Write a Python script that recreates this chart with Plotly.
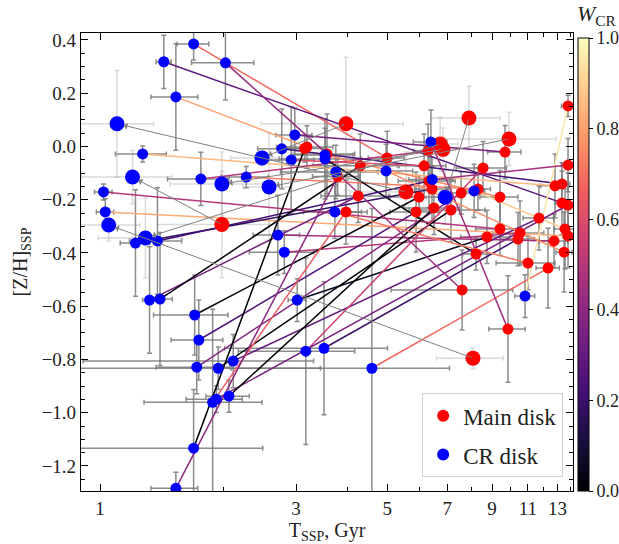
import numpy as np
import plotly.graph_objects as go

# ---------------- data (pair order: CR disk point <-> main disk point) ----------------
cr_age = [1.69, 1.43, 2.02, 1.53, 1.10, 1.27, 1.20, 1.76, 1.98, 2.27,
          2.48, 2.58, 2.77, 2.92, 2.98, 3.53, 3.53, 1.02, 1.03, 1.05,
          1.29, 1.22, 1.38, 2.71, 2.81, 1.32, 1.40, 3.02, 1.70, 1.74,
          1.72, 1.94, 2.11, 3.17, 3.51, 1.92, 1.88, 2.06, 1.69, 1.53,
          4.59, 10.83, 6.39, 4.97, 8.14, 3.75, 3.73, 6.44, 6.92]
cr_zh = [0.385, 0.318, 0.314, 0.186, 0.085, -0.028, -0.115, -0.122, -0.141, -0.115,
         -0.043, -0.152, -0.009, -0.051, 0.043, -0.032, -0.047, -0.171, -0.246, -0.295,
         -0.344, -0.363, -0.355, -0.333, -0.397, -0.577, -0.573, -0.577, -0.633, -0.727,
         -0.829, -0.833, -0.806, -0.769, -0.758, -0.949, -0.961, -0.938, -1.133, -1.284,
         -0.833, -0.562, 0.017, -0.092, -0.167, -0.096, -0.246, -0.124, -0.191]
main_age = [5.00, 13.32, 3.57, 3.19, 5.56, 12.81, 1.98, 6.29, 6.84, 8.32,
            3.97, 9.90, 13.32, 6.15, 9.68, 9.41, 8.23, 9.41, 13.78, 8.09,
            6.73, 6.43, 6.32, 12.74, 10.53, 4.25, 4.30, 8.75, 5.98, 5.88,
            7.57, 7.15, 11.71, 8.56, 10.41, 13.78, 3.97, 6.50, 3.15, 3.79,
            12.32, 13.78, 9.84, 13.48, 13.55, 7.61, 11.01, 13.78, 7.91]
main_zh = [-0.043, -0.212, -0.028, -0.002, -0.171, -0.148, -0.293, -0.017, -0.011, -0.160,
           0.085, 0.028, -0.141, -0.073, -0.021, -0.190, -0.404, -0.310, -0.336, -0.795,
           0.009, -0.160, -0.130, -0.355, -0.325, -0.186, -0.073, -0.340, -0.190, -0.246,
           -0.175, -0.239, -0.269, -0.081, -0.348, -0.220, -0.246, -0.231, -0.008, -0.113,
           -0.457, 0.152, -0.686, -0.397, -0.310, -0.539, -0.438, -0.070, 0.107]
w_cr = [0.68, 0.28, 0.42, 0.80, None, 0.85, None, 0.50, None, 0.72,
        None, None, 0.22, 0.60, 0.35, 0.75, 0.02, 0.50, 0.82, None,
        None, 0.18, 0.22, 0.45, 0.50, 0.35, 0.02, 0.05, 0.02, 0.25,
        0.38, 0.00, 0.30, 0.55, 0.20, 0.35, 0.65, 0.00, 0.00, 0.40,
        0.68, 0.95, 0.45, 0.75, 0.90, 0.45, 0.72, 0.45, None]
cr_age_err = [0.15, 0.06, 0.35, 0.20, 0.25, 0.18, 0.30, 0.30, 0.50, 0.30,
              0.40, 0.35, 0.35, 0.40, 0.30, 0.60, 0.80, 0.05, 0.05, 0.20,
              0.30, 0.10, 0.20, 0.35, 0.50, 0.05, 0.10, 0.15, 0.35, 0.25,
              0.35, 1.50, 1.20, 1.00, 1.50, 0.30, 0.60, 0.25, 0.80, 0.20,
              2.50, 0.60, 0.60, 0.80, 0.50, 1.00, 0.60, 0.80, 0.70]
cr_zh_err = [0.06, 0.10, 0.14, 0.20, 0.20, 0.03, 0.10, 0.10, 0.12, 0.04,
             0.03, 0.20, 0.15, 0.20, 0.10, 0.10, 0.15, 0.03, 0.05, 0.06,
             0.15, 0.20, 0.20, 0.15, 0.08, 0.20, 0.25, 0.08, 0.15, 0.15,
             0.10, 0.08, 0.10, 0.35, 0.25, 0.05, 0.35, 0.06, 0.22, 0.06,
             0.60, 0.08, 0.12, 0.10, 0.10, 0.10, 0.10, 0.05, 0.10]
main_age_err = [0.5, 0.5, 0.6, 0.5, 1.5, 1.0, 0.6, 0.5, 0.5, 0.6,
                1.5, 3.0, 0.6, 0.8, 0.9, 1.0, 0.6, 1.2, 0.4, 1.5,
                0.7, 0.6, 1.0, 1.0, 1.5, 0.8, 1.0, 1.2, 0.9, 0.8,
                0.8, 1.5, 1.0, 1.2, 1.0, 0.5, 0.5, 1.0, 0.4, 0.5,
                0.8, 0.5, 1.0, 0.6, 0.8, 2.5, 1.8, 0.5, 1.5]
main_zh_err = [0.10, 0.12, 0.15, 0.08, 0.15, 0.12, 0.20, 0.10, 0.08, 0.08,
               0.25, 0.10, 0.08, 0.12, 0.10, 0.10, 0.06, 0.10, 0.12, 0.04,
               0.10, 0.12, 0.10, 0.10, 0.12, 0.10, 0.12, 0.10, 0.08, 0.15,
               0.08, 0.12, 0.12, 0.10, 0.10, 0.12, 0.12, 0.10, 0.05, 0.07,
               0.15, 0.04, 0.20, 0.15, 0.15, 0.15, 0.10, 0.10, 0.12]

x_ticks = [1, 3, 5, 7, 9, 11, 13]
x_minor = [2, 4, 6, 8, 10, 12, 14]
cbar_ticks = [0.0, 0.2, 0.4, 0.6, 0.8, 1.0]

# ---------------- colormap (magma) ----------------
magma_hex = ['#000004', '#180f3d', '#440f76', '#721f81', '#9e2f7f',
             '#cd4071', '#f1605d', '#fd9668', '#feca8d', '#fcfdbf']
magma_rgb = np.array([[int(h[i:i + 2], 16) for i in (1, 3, 5)] for h in magma_hex], float)
stops = np.linspace(0, 1, len(magma_hex))
magma_scale = [[float(s), h] for s, h in zip(stops, magma_hex)]


def magma(v):
    c = [np.interp(v, stops, magma_rgb[:, k]) for k in range(3)]
    return 'rgb(%d,%d,%d)' % tuple(int(round(x)) for x in c)


FONT = 'Liberation Serif'
n = len(cr_age)
fig = go.Figure()

# ---------------- error bars (drawn first) ----------------
for flagged in (False, True):
    idx = [i for i in range(n) if (w_cr[i] is None) == flagged]
    ecol = 'rgba(150,150,150,0.35)' if flagged else 'rgba(120,120,120,0.85)'
    for ages, zh, xe, ye in [(main_age, main_zh, main_age_err, main_zh_err),
                             (cr_age, cr_zh, cr_age_err, cr_zh_err)]:
        fig.add_trace(go.Scatter(
            x=[ages[i] for i in idx], y=[zh[i] for i in idx], mode='markers',
            marker=dict(size=2, opacity=0),
            error_x=dict(type='data', array=[xe[i] for i in idx], color=ecol,
                         thickness=1.5, width=2.5),
            error_y=dict(type='data', array=[ye[i] for i in idx], color=ecol,
                         thickness=1.5, width=2.5),
            showlegend=False, hoverinfo='skip'))

# ---------------- connecting lines coloured by W_CR ----------------
for i in range(n):
    if w_cr[i] is None:
        fig.add_annotation(x=np.log10(cr_age[i]), y=cr_zh[i],
                           ax=np.log10(main_age[i]), ay=main_zh[i],
                           xref='x', yref='y', axref='x', ayref='y',
                           text='', showarrow=True, arrowhead=1, arrowsize=1.2,
                           arrowwidth=1, arrowcolor='rgb(128,128,128)', standoff=7)
    else:
        fig.add_trace(go.Scatter(
            x=[cr_age[i], main_age[i]], y=[cr_zh[i], main_zh[i]], mode='lines',
            line=dict(color=magma(w_cr[i]), width=1.5),
            showlegend=False, hoverinfo='skip'))

# ---------------- points ----------------
sizes = [15 if w is None else 11 for w in w_cr]
fig.add_trace(go.Scatter(x=main_age, y=main_zh, mode='markers', name='Main disk',
                         marker=dict(color='#ff0000', size=sizes, opacity=1, line=dict(width=0)),
                         legendgroup='a'))
fig.add_trace(go.Scatter(x=cr_age, y=cr_zh, mode='markers', name='CR disk',
                         marker=dict(color='#0000ff', size=sizes, opacity=1, line=dict(width=0)),
                         legendgroup='b'))

# ---------------- colorbar carrier ----------------
fig.add_trace(go.Scatter(
    x=[1.0, 1.0], y=[0.0, 0.0], mode='markers', showlegend=False, hoverinfo='skip',
    marker=dict(size=1, opacity=0, color=[0, 1], cmin=0, cmax=1,
                colorscale=magma_scale, showscale=True,
                colorbar=dict(x=1.0102, xanchor='left', xpad=0, ypad=0,
                              y=0.0, yanchor='bottom',
                              len=0.989, lenmode='fraction', thickness=11,
                              outlinecolor='black', outlinewidth=1,
                              tickvals=cbar_ticks, tickformat='.1f',
                              ticks='outside', ticklen=4, tickcolor='black',
                              tickfont=dict(family=FONT, size=18, color='#222')))))

fig.add_annotation(x=1.048, y=1.074, xref='paper', yref='paper',
                   text='<i>W</i><sub>CR</sub>', showarrow=False,
                   font=dict(family=FONT, size=22, color='#222'),
                   xanchor='center', yanchor='top')

axis_common = dict(showline=True, linecolor='black', linewidth=1.2, mirror='allticks',
                   ticks='inside', ticklen=7, tickcolor='black', showgrid=False,
                   zeroline=False, tickfont=dict(family=FONT, size=19, color='#222'))

fig.update_xaxes(type='log', range=[np.log10(0.899), np.log10(14.17)],
                 tickvals=x_ticks, ticktext=[str(v) for v in x_ticks],
                 minor=dict(tickvals=x_minor, ticks='inside', ticklen=4, tickcolor='black'),
                 title=dict(text='T<sub>SSP</sub>, Gyr', font=dict(family=FONT, size=20, color='#222'),
                            standoff=4),
                 **axis_common)
fig.update_yaxes(range=[-1.294, 0.426], tick0=0, dtick=0.2, tickformat='.1f',
                 minor=dict(dtick=0.05, tick0=0, ticks='inside', ticklen=4, tickcolor='black'),
                 title=dict(text='[Z/H]<sub>SSP</sub>', font=dict(family=FONT, size=20, color='#222'),
                            standoff=8),
                 **axis_common)

fig.update_layout(
    width=619, height=544,
    margin=dict(l=81, r=46, t=33, b=53, autoexpand=False),
    plot_bgcolor='white', paper_bgcolor='white',
    legend=dict(x=0.98, y=0.03, xanchor='right', yanchor='bottom',
                bgcolor='rgba(255,255,255,0.8)', bordercolor='#d0d0d0', borderwidth=1,
                font=dict(family=FONT, size=23, color='#222'),
                tracegroupgap=6, itemsizing='constant'),
)

fig.write_html('out.html')
